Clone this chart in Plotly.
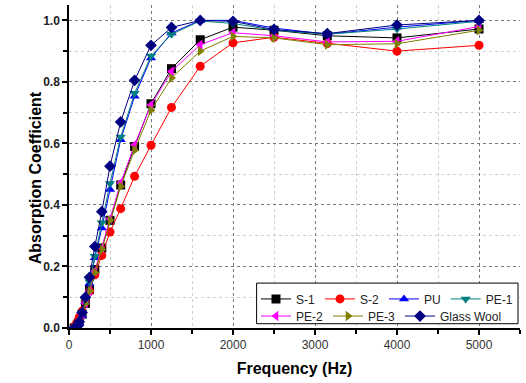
import plotly.graph_objects as go

freq = [63, 80, 100, 125, 160, 200, 250, 315, 400, 500, 630, 800, 1000, 1250, 1600, 2000, 2500, 3150, 4000, 5000]

s1 = [0.0, 0.0, 0.005, 0.02, 0.045, 0.08, 0.125, 0.19, 0.26, 0.35, 0.465, 0.59, 0.729, 0.843, 0.937, 0.978, 0.968, 0.95, 0.943, 0.972]
s2 = [0.0, 0.01, 0.02, 0.035, 0.055, 0.085, 0.12, 0.173, 0.236, 0.312, 0.388, 0.493, 0.594, 0.717, 0.851, 0.927, 0.945, 0.925, 0.90, 0.919]
pu = [0.0, 0.0, 0.003, 0.015, 0.04, 0.085, 0.145, 0.228, 0.325, 0.45, 0.612, 0.753, 0.878, 0.959, 1.0, 1.0, 0.975, 0.955, 0.978, 1.0]
pe1 = [0.0, 0.0, 0.005, 0.02, 0.05, 0.09, 0.15, 0.233, 0.342, 0.47, 0.621, 0.763, 0.884, 0.955, 0.998, 0.99, 0.968, 0.955, 0.972, 0.997]
pe2 = [0.0, 0.0, 0.005, 0.02, 0.045, 0.08, 0.12, 0.185, 0.26, 0.355, 0.472, 0.596, 0.725, 0.834, 0.921, 0.96, 0.95, 0.93, 0.932, 0.98]
pe3 = [0.0, 0.0, 0.005, 0.02, 0.045, 0.08, 0.12, 0.18, 0.255, 0.35, 0.46, 0.578, 0.708, 0.813, 0.90, 0.948, 0.943, 0.921, 0.924, 0.968]
glass_wool = [0.0, 0.0, 0.005, 0.02, 0.05, 0.10, 0.165, 0.265, 0.378, 0.526, 0.670, 0.805, 0.919, 0.977, 1.0, 0.997, 0.97, 0.957, 0.985, 1.0]

series = [
    ("S-1", s1, "#000000", "square", "legend"),
    ("S-2", s2, "#ff0000", "circle", "legend"),
    ("PU", pu, "#0000ff", "triangle-up", "legend"),
    ("PE-1", pe1, "#008080", "triangle-down", "legend"),
    ("PE-2", pe2, "#ff00ff", "triangle-left", "legend2"),
    ("PE-3", pe3, "#808000", "triangle-right", "legend2"),
    ("Glass Wool", glass_wool, "#000080", "diamond", "legend2"),
]

fig = go.Figure()
for name, vals, color, sym, leg in series:
    fig.add_trace(go.Scatter(
        x=freq, y=vals, name=name, mode="lines+markers",
        line=dict(color=color, width=1),
        marker=dict(symbol=sym, size=9, color=color),
        legend=leg,
    ))

grid_major = "#7a7a7a"
grid_minor = "#d0d0d0"

fig.update_layout(
    width=526, height=383,
    margin=dict(l=69, r=6, t=5, b=55),
    paper_bgcolor="white", plot_bgcolor="white",
    font=dict(family="Arial, Liberation Sans, sans-serif", color="#000"),
    xaxis=dict(
        range=[0, 5500], dtick=1000, tick0=0,
        showline=True, linecolor="black", linewidth=1.5,
        ticks="outside", ticklen=5, tickcolor="black", tickwidth=1.5,
        showgrid=True, gridcolor=grid_major, griddash="dot", gridwidth=1,
        zeroline=False,
        tickfont=dict(size=12, color="#333"),
        minor=dict(dtick=500, ticks="outside", ticklen=4, tickcolor="black",
                   showgrid=True, gridcolor=grid_minor, griddash="dot"),
        title=dict(text="Frequency (Hz)", font=dict(size=16, weight="bold"), standoff=12),
    ),
    yaxis=dict(
        range=[0, 1.05], dtick=0.2, tick0=0, tickformat=".1f",
        showline=True, linecolor="black", linewidth=1.5,
        ticks="outside", ticklen=5, tickcolor="black", tickwidth=1.5,
        showgrid=True, gridcolor=grid_major, griddash="dot", gridwidth=1,
        zeroline=False,
        tickfont=dict(size=12, color="#222", weight="bold"),
        minor=dict(dtick=0.1, ticks="outside", ticklen=4, tickcolor="black",
                   showgrid=True, gridcolor=grid_minor, griddash="dot"),
    ),
    legend=dict(
        orientation="h", x=0.4146, xanchor="left", y=0.09, yanchor="middle",
        bgcolor="rgba(0,0,0,0)", borderwidth=0, font=dict(size=12, color="#222"),
        itemwidth=30, tracegroupgap=0,
    ),
    legend2=dict(
        orientation="h", x=0.4146, xanchor="left", y=0.037, yanchor="middle",
        bgcolor="rgba(0,0,0,0)", borderwidth=0, font=dict(size=12, color="#222"),
        itemwidth=30, tracegroupgap=0,
    ),
    shapes=[dict(
        type="rect", xref="paper", yref="paper",
        x0=0.416, x1=0.9956, y0=0.0133, y1=0.139,
        line=dict(color="black", width=1), fillcolor="white", layer="above",
    )],
    annotations=[dict(
        text="Absorption Coefficient", textangle=-90,
        xref="paper", yref="paper", x=-0.074, y=0.4655,
        xanchor="center", yanchor="middle", showarrow=False,
        font=dict(size=16, weight="bold", color="#000"),
    )],
)

fig.write_html("out.html", config={"displayModeBar": False},
               post_script="document.body.style.margin='0px';")
